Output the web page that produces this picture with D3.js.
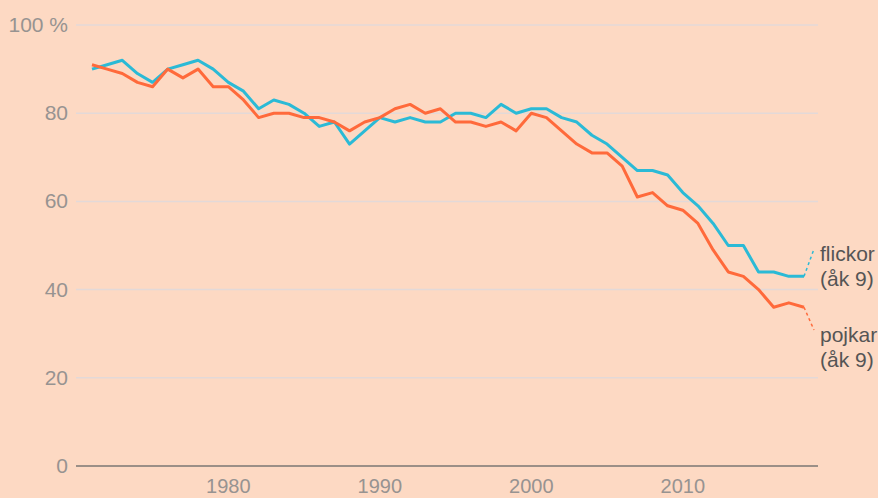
<!DOCTYPE html>
<html lang="sv">
<head>
<meta charset="utf-8">
<title>Andel elever</title>
<script src="https://d3js.org/d3.v7.min.js"></script>
<style>
  html, body { margin: 0; padding: 0; background: #FDD9C3; }
  svg { display: block; font-family: "Liberation Sans", Arial, sans-serif; }
  .tick-label { fill: #979391; font-size: 21px; }
  .x-label { font-size: 20px; }
  .series-label { fill: #555; font-size: 21px; }
</style>
</head>
<body>
<svg id="chart"></svg>
<script>
// data
const years = d3.range(1971, 2019);
const girls = [90, 91, 92, 89, 87, 90, 91, 92, 90, 87,
               85, 81, 83, 82, 80, 77, 78, 73, 76, 79,
               78, 79, 78, 78, 80, 80, 79, 82, 80, 81,
               81, 79, 78, 75, 73, 70, 67, 67, 66, 62,
               59, 55, 50, 50, 44, 44, 43, 43];
const boys  = [91, 90, 89, 87, 86, 90, 88, 90, 86, 86,
               83, 79, 80, 80, 79, 79, 78, 76, 78, 79,
               81, 82, 80, 81, 78, 78, 77, 78, 76, 80,
               79, 76, 73, 71, 71, 68, 61, 62, 59, 58,
               55, 49, 44, 43, 40, 36, 37, 36];
const yTicks = [0, 20, 40, 60, 80, 100];
const xTicks = [1980, 1990, 2000, 2010];
const seriesNames = ["flickor", "pojkar"];
const seriesSub = "(åk 9)";

const width = 878, height = 498;
const svg = d3.select("#chart").attr("width", width).attr("height", height);

// scales
const x = d3.scaleLinear().domain([1971, 2018]).range([92, 804]);
const y = d3.scaleLinear().domain([0, 100]).range([466, 25]);
const gridLeft = 76, gridRight = 818;

// gridlines
svg.append("g")
  .selectAll("line")
  .data(yTicks.filter(d => d > 0))
  .enter()
  .append("line")
  .attr("x1", gridLeft)
  .attr("x2", gridRight)
  .attr("y1", d => y(d))
  .attr("y2", d => y(d))
  .attr("stroke", "#E3D9D8")
  .attr("stroke-width", 1.5);

// baseline
svg.append("line")
  .attr("x1", gridLeft).attr("x2", gridRight)
  .attr("y1", y(0)).attr("y2", y(0))
  .attr("stroke", "#7a7673")
  .attr("stroke-width", 1.5);

// y labels
svg.append("g")
  .selectAll("text")
  .data(yTicks)
  .enter()
  .append("text")
  .attr("class", "tick-label")
  .attr("x", 68)
  .attr("y", d => y(d) + 7)
  .attr("text-anchor", "end")
  .text(d => d === 100 ? "100 %" : d);

// x labels
svg.append("g")
  .selectAll("text")
  .data(xTicks)
  .enter()
  .append("text")
  .attr("class", "tick-label x-label")
  .attr("x", d => x(d))
  .attr("y", 493)
  .attr("text-anchor", "middle")
  .text(d => d);

// lines
const line = d3.line()
  .x((d, i) => x(years[i]))
  .y(d => y(d));

const series = [
  { name: seriesNames[0], values: girls, color: "#2BBAD6", labelY: 261, leadY: 249 },
  { name: seriesNames[1], values: boys,  color: "#FF6A3B", labelY: 342, leadY: 330 }
];

series.forEach(s => {
  svg.append("path")
    .datum(s.values)
    .attr("fill", "none")
    .attr("stroke", s.color)
    .attr("stroke-width", 3)
    .attr("stroke-linejoin", "round")
    .attr("d", line);

  // dotted leader to label
  const lastX = x(years[years.length - 1]);
  const lastY = y(s.values[s.values.length - 1]);
  svg.append("line")
    .attr("x1", lastX)
    .attr("y1", lastY)
    .attr("x2", lastX + 10)
    .attr("y2", s.leadY)
    .attr("stroke", s.color)
    .attr("stroke-width", 1.5)
    .attr("stroke-dasharray", "3,3");

  const t = svg.append("text")
    .attr("class", "series-label")
    .attr("x", 820)
    .attr("y", s.labelY);
  t.append("tspan").attr("x", 820).text(s.name);
  t.append("tspan").attr("x", 820).attr("dy", 25).text(seriesSub);
});
</script>
</body>
</html>
